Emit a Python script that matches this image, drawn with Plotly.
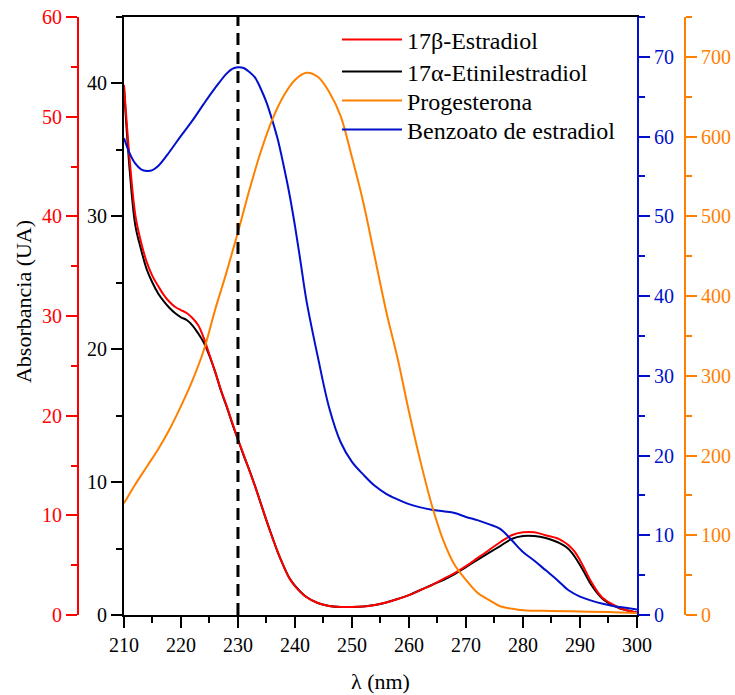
import plotly.graph_objects as go

# wavelength grids (nm)
wl_est = [210, 211, 212, 213, 214, 215, 216, 217, 218, 219, 220, 221, 222, 223, 224, 225,
          226, 227, 228, 229, 230, 231, 232, 233, 234, 235, 236, 237, 238, 239, 240, 242,
          244, 246, 248, 250, 252, 254, 256, 258, 260, 262, 264, 266, 268, 270, 272, 274,
          276, 278, 280, 282, 284, 286, 287, 288, 289, 290, 291, 292, 293, 294, 295, 296,
          297, 298, 300]

estradiol = [53.2, 45.7, 40.1, 37.4, 35.4, 34.0, 33.0, 32.1, 31.4, 30.9, 30.6, 30.3, 29.8, 29.1,
             27.8, 26.1, 24.4, 22.6, 21.0, 19.3, 17.6, 16.1, 14.5, 12.9, 11.2, 9.5, 7.8, 6.3,
             4.9, 3.7, 2.9, 1.8, 1.2, 0.9, 0.8, 0.8, 0.85, 1.0, 1.25, 1.6, 2.0, 2.5, 3.0, 3.6,
             4.2, 4.9, 5.7, 6.5, 7.3, 8.0, 8.3, 8.3, 8.0, 7.7, 7.4, 7.0, 6.4, 5.5, 4.4, 3.3,
             2.4, 1.7, 1.3, 1.0, 0.7, 0.5, 0.25]

etinilestradiol = [39.7, 33.5, 29.3, 27.5, 26.0, 25.0, 24.2, 23.6, 23.1, 22.7, 22.4, 22.2, 21.8,
                   21.2, 20.5, 19.5, 18.3, 16.9, 15.7, 14.4, 13.2, 12.0, 10.9, 9.7, 8.4, 7.1, 5.9,
                   4.7, 3.7, 2.8, 2.2, 1.35, 0.9, 0.68, 0.6, 0.6, 0.64, 0.75, 0.94, 1.2, 1.5,
                   1.88, 2.26, 2.63, 3.08, 3.61, 4.14, 4.67, 5.19, 5.72, 5.94, 5.94, 5.79, 5.49,
                   5.27, 4.97, 4.44, 3.76, 3.01, 2.26, 1.66, 1.2, 0.9, 0.68, 0.49, 0.38, 0.19]

wl_prog = [210, 212, 214, 216, 218, 220, 222, 224, 226, 228, 230, 232, 234, 236, 238, 240, 242,
           244, 246, 248, 250, 252, 254, 256, 258, 260, 262, 264, 266, 268, 270, 272, 274, 276,
           278, 280, 285, 290, 295, 300]
progesterona = [140, 164, 186, 208, 233, 262, 294, 332, 383, 430, 480, 533, 581, 621, 651, 671,
                680, 675, 656, 626, 574, 517, 449, 381, 322, 255, 193, 138, 94, 63, 44, 28, 19,
                11, 8, 6, 5, 4.4, 3.8, 2.5]

wl_benz = [210, 211, 212, 213, 214, 215, 216, 218, 220, 222, 224, 226, 228, 229, 230, 231, 232,
           233, 234, 235, 236, 237, 238, 239, 240, 241, 242, 244, 246, 248, 250, 252, 254, 256,
           258, 260, 262, 264, 266, 268, 270, 272, 274, 276, 278, 280, 282, 284, 286, 288, 290,
           292, 294, 296, 298, 300]
benzoato = [59.8, 57.9, 56.6, 55.9, 55.7, 55.8, 56.3, 58.1, 60.1, 62.0, 64.1, 66.1, 67.9, 68.5,
            68.7, 68.6, 68.1, 67.4, 66.0, 64.3, 62.1, 59.6, 56.4, 52.9, 48.8, 44.2, 39.5, 32.4,
            26.0, 21.7, 19.2, 17.6, 16.2, 15.2, 14.5, 13.9, 13.5, 13.2, 13.0, 12.8, 12.3, 11.9,
            11.4, 10.8, 9.4, 7.9, 6.8, 5.6, 4.4, 3.1, 2.3, 1.8, 1.4, 1.1, 0.9, 0.7]

marker_wl = 230

RED = "#FF0000"
ORANGE = "#FF8000"
BLUE = "#0010CC"
FONT = "'Liberation Serif', 'Times New Roman', Times, 'DejaVu Serif', serif"

fig = go.Figure()
fig.add_trace(go.Scatter(x=wl_est, y=estradiol, mode="lines", name="17β-Estradiol",
                         line=dict(color=RED, width=2, shape="spline"), yaxis="y2",
                         legend="legend", showlegend=True))
fig.add_trace(go.Scatter(x=wl_est, y=etinilestradiol, mode="lines", name="17α-Etinilestradiol",
                         line=dict(color="black", width=2, shape="spline"), yaxis="y",
                         legend="legend2"))
fig.add_trace(go.Scatter(x=wl_prog, y=progesterona, mode="lines", name="Progesterona",
                         line=dict(color=ORANGE, width=2, shape="spline"), yaxis="y4",
                         legend="legend3"))
fig.add_trace(go.Scatter(x=wl_benz, y=benzoato, mode="lines", name="Benzoato de estradiol",
                         line=dict(color=BLUE, width=2, shape="spline"), yaxis="y3",
                         legend="legend4"))

fig.add_shape(type="line", xref="x", yref="paper", x0=marker_wl, x1=marker_wl, y0=0, y1=1,
              line=dict(color="black", width=3, dash="12px,7px"))


def ax(color, minor_step, **kw):
    d = dict(showline=True, linecolor=color, linewidth=2, ticks="outside", ticklen=11,
             tickwidth=2, tickcolor=color, showgrid=False, zeroline=False, automargin=False,
             ticklabeloverflow="allow",
             tickfont=dict(color=color, size=20, family=FONT),
             minor=dict(ticks="outside", ticklen=6, tickwidth=2, tickcolor=color,
                        dtick=minor_step))
    d.update(kw)
    return d


def leg(y):
    return dict(x=0.451, y=y, xanchor="left", yanchor="middle", bgcolor="rgba(0,0,0,0)",
                itemwidth=60, font=dict(size=24, family=FONT, color="black"))


fig.update_layout(
    width=735, height=695,
    margin=dict(l=10, r=0, t=17, b=80),
    paper_bgcolor="white", plot_bgcolor="white",
    font=dict(family=FONT, size=20, color="black"),
    showlegend=True,
    xaxis=dict(ax("black", 5, range=[210, 300], dtick=10, tick0=210, mirror=True),
               domain=[0.1572, 0.8648],
               title=dict(text="λ (nm)", font=dict(size=22, family=FONT), standoff=19)),
    yaxis=ax("black", 5, range=[0, 45], dtick=10),
    yaxis2=ax(RED, 5, range=[0, 60], dtick=10, overlaying="y", anchor="free", side="left",
              position=0.0938),
    yaxis3=ax(BLUE, 5, range=[0, 75], dtick=10, overlaying="y", anchor="x", side="right"),
    yaxis4=ax(ORANGE, 50, range=[0, 750], dtick=100, overlaying="y", anchor="free",
              side="right", position=0.9310),
    legend=leg(0.9615),
    legend2=leg(0.908),
    legend3=leg(0.8595),
    legend4=leg(0.811),
    annotations=[dict(text="Absorbancia (UA)", xref="paper", yref="paper", x=0.0179, y=0.525,
                      textangle=-90, showarrow=False, xanchor="center", yanchor="middle",
                      font=dict(size=22, family=FONT, color="black"))],
)

# drop the default page margin so the figure fills the 735x695 window exactly
fig.write_html("out.html", config={"displayModeBar": False},
               post_script="document.body.style.margin='0';document.body.style.overflow='hidden';")
